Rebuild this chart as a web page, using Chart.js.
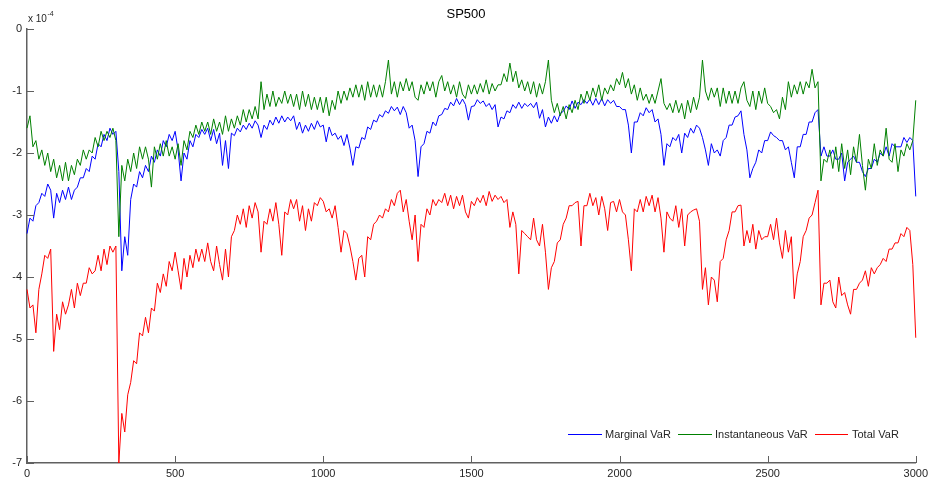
<!DOCTYPE html>
<html>
<head>
<meta charset="utf-8">
<script src="https://cdn.jsdelivr.net/npm/chart.js@4.4.1/dist/chart.umd.min.js"></script>
<style>
html,body{margin:0;padding:0;background:#fff;}
#wrap{width:932px;height:485px;}
</style>
</head>
<body>
<div id="wrap"><canvas id="c" width="932" height="485"></canvas></div>
<script>
// Chart data (values in units of 1e-4), sampled every 10 time steps from 0 to 3000
const chartTitle = "SP500";
const seriesNames = ["Marginal VaR", "Instantaneous VaR", "Total VaR"];
const sampleStep = 10;
const xTickLabels = [0, 500, 1000, 1500, 2000, 2500, 3000];
const yTickLabels = [0, -1, -2, -3, -4, -5, -6, -7];

const marginalVaR = [
-3.3,-3.05,-3.1,-2.85,-2.8,-2.65,-2.7,-2.5,-2.6,-3.05,
-2.65,-2.8,-2.6,-2.75,-2.55,-2.75,-2.6,-2.55,-2.4,-2.4,
-2.25,-2.3,-2.05,-2.1,-1.85,-1.9,-1.7,-1.8,-1.6,-1.7,
-1.65,-2.3,-3.9,-3.35,-3.65,-2.75,-2.5,-2.55,-2.3,-2.4,
-2.2,-2.3,-2.05,-2.15,-1.95,-2.05,-1.8,-1.9,-1.7,-1.8,
-1.65,-1.95,-2.45,-2.0,-2.1,-1.8,-1.9,-1.7,-1.75,-1.62,
-1.7,-1.6,-1.8,-1.62,-1.85,-1.68,-2.2,-1.8,-2.25,-1.68,
-1.72,-1.6,-1.66,-1.55,-1.62,-1.52,-1.6,-1.48,-1.55,-1.75,
-1.55,-1.62,-1.47,-1.55,-1.42,-1.52,-1.4,-1.5,-1.42,-1.48,
-1.4,-1.62,-1.5,-1.68,-1.55,-1.65,-1.52,-1.62,-1.48,-1.58,
-1.55,-1.82,-1.58,-1.72,-1.68,-1.78,-1.72,-1.88,-1.7,-1.92,
-2.2,-1.9,-1.92,-1.75,-1.78,-1.58,-1.62,-1.47,-1.5,-1.38,
-1.42,-1.32,-1.36,-1.25,-1.32,-1.26,-1.38,-1.25,-1.35,-1.6,
-1.55,-1.8,-2.38,-1.9,-1.85,-1.65,-1.68,-1.5,-1.56,-1.4,
-1.38,-1.28,-1.3,-1.18,-1.24,-1.12,-1.22,-1.13,-1.22,-1.47,
-1.25,-1.24,-1.14,-1.2,-1.16,-1.25,-1.2,-1.3,-1.22,-1.58,
-1.42,-1.45,-1.32,-1.35,-1.22,-1.28,-1.18,-1.28,-1.2,-1.25,
-1.2,-1.27,-1.18,-1.44,-1.3,-1.58,-1.42,-1.52,-1.4,-1.5,
-1.36,-1.33,-1.24,-1.3,-1.16,-1.28,-1.18,-1.22,-1.14,-1.2,
-1.13,-1.23,-1.12,-1.22,-1.12,-1.24,-1.14,-1.2,-1.15,-1.25,
-1.25,-1.3,-1.3,-1.55,-2.0,-1.5,-1.5,-1.35,-1.4,-1.27,
-1.35,-1.3,-1.5,-1.45,-1.7,-2.2,-1.85,-1.9,-1.75,-1.8,
-1.7,-2.0,-1.68,-1.75,-1.6,-1.68,-1.55,-1.6,-1.75,-1.95,
-2.2,-1.85,-2.0,-1.95,-2.05,-1.8,-1.75,-1.55,-1.55,-1.42,
-1.4,-1.32,-1.7,-1.95,-2.4,-2.25,-2.15,-1.95,-2.0,-1.8,
-1.8,-1.66,-1.72,-1.75,-1.8,-1.8,-1.95,-1.9,-2.15,-2.4,
-1.9,-1.9,-1.7,-1.7,-1.5,-1.5,-1.35,-1.3,-2.05,-1.9,
-2.05,-2.05,-1.95,-2.1,-2.1,-2.0,-2.45,-2.15,-2.1,-2.05,
-2.15,-2.15,-2.3,-2.38,-2.25,-2.25,-2.1,-2.15,-2.0,-2.05,
-1.9,-2.05,-1.85,-1.9,-1.9,-1.9,-1.75,-1.83,-1.75,-1.8,
-2.7];

const instantaneousVaR = [
-1.6,-1.4,-1.9,-1.8,-2.1,-1.95,-2.2,-2.0,-2.3,-2.1,
-2.4,-2.2,-2.45,-2.15,-2.45,-2.2,-2.35,-2.1,-2.2,-1.95,
-2.1,-1.95,-2.0,-1.75,-1.9,-1.65,-1.8,-1.65,-1.75,-1.6,
-1.8,-3.35,-2.2,-2.45,-2.1,-2.3,-2.0,-2.25,-1.9,-2.1,
-1.9,-2.1,-2.55,-1.9,-2.1,-1.85,-2.05,-1.8,-2.05,-1.9,
-2.1,-1.85,-2.2,-1.8,-1.95,-1.65,-1.75,-1.55,-1.7,-1.5,
-1.65,-1.5,-1.7,-1.45,-1.65,-1.5,-1.7,-1.4,-1.65,-1.45,
-1.6,-1.4,-1.55,-1.3,-1.5,-1.3,-1.45,-1.25,-1.45,-0.85,
-1.3,-1.05,-1.25,-1.0,-1.25,-1.1,-1.2,-1.0,-1.2,-1.05,
-1.25,-1.05,-1.3,-1.0,-1.25,-1.05,-1.3,-1.1,-1.3,-1.1,
-1.35,-1.1,-1.4,-1.15,-1.3,-1.0,-1.2,-1.0,-1.15,-0.95,
-1.1,-0.9,-1.1,-0.9,-1.15,-0.85,-1.1,-0.9,-1.1,-0.9,
-1.1,-0.85,-0.5,-1.05,-0.85,-1.1,-0.85,-1.0,-0.8,-1.0,
-0.85,-1.1,-1.15,-0.9,-1.05,-0.85,-1.0,-0.85,-1.1,-0.85,
-0.75,-1.0,-0.85,-1.05,-0.9,-1.1,-0.85,-1.05,-1.12,-0.9,
-1.05,-0.9,-1.05,-0.88,-1.02,-0.82,-1.05,-0.88,-1.0,-0.9,
-0.9,-0.72,-0.85,-0.55,-0.85,-0.68,-0.95,-0.82,-1.0,-0.85,
-1.05,-0.85,-1.1,-0.88,-1.05,-0.85,-0.5,-1.15,-1.35,-1.2,
-1.4,-1.25,-1.45,-1.22,-1.35,-1.15,-1.3,-1.05,-1.2,-1.0,
-1.15,-0.95,-1.1,-0.9,-1.15,-0.95,-1.05,-0.9,-1.0,-0.8,
-0.9,-0.7,-0.95,-0.8,-1.05,-0.9,-1.15,-0.95,-1.15,-1.05,
-1.2,-1.05,-1.2,-1.0,-0.8,-1.2,-1.3,-1.2,-1.35,-1.15,
-1.35,-1.2,-1.45,-1.15,-1.35,-1.1,-1.3,-1.1,-0.5,-1.0,
-1.15,-0.95,-1.1,-0.95,-1.25,-0.95,-1.2,-1.0,-1.2,-1.0,
-1.2,-0.95,-0.85,-1.15,-1.25,-1.0,-1.3,-1.0,-1.2,-0.95,
-1.2,-1.25,-1.35,-1.3,-1.45,-1.1,-1.3,-0.85,-1.1,-0.9,
-1.05,-0.85,-1.05,-0.85,-0.95,-0.65,-0.95,-0.85,-2.45,-2.1,
-2.15,-1.95,-2.25,-1.9,-2.3,-1.85,-2.25,-1.95,-2.35,-1.9,
-2.15,-1.7,-2.2,-2.6,-2.1,-2.25,-1.85,-2.2,-1.95,-2.05,
-1.6,-2.1,-2.15,-1.85,-2.3,-1.95,-2.05,-1.85,-1.95,-1.8,
-1.15];

const totalVaR = [
-4.2,-4.5,-4.45,-4.9,-4.2,-3.95,-3.65,-3.7,-3.55,-5.2,
-4.6,-4.85,-4.4,-4.6,-4.45,-4.2,-4.5,-4.1,-4.3,-4.1,
-4.1,-3.85,-3.95,-3.9,-3.65,-3.9,-3.55,-3.8,-3.5,-3.6,
-3.5,-7.0,-6.2,-6.5,-5.9,-5.7,-5.35,-5.4,-4.9,-4.95,
-4.65,-4.9,-4.5,-4.55,-4.1,-4.25,-3.95,-4.15,-3.75,-3.9,
-3.6,-3.9,-4.2,-3.7,-4.0,-3.65,-3.85,-3.55,-3.75,-3.55,
-3.75,-3.45,-3.75,-3.9,-3.5,-3.8,-4.05,-3.55,-4.0,-3.35,
-3.25,-3.0,-3.15,-2.9,-3.2,-2.85,-3.05,-2.8,-2.95,-3.6,
-3.1,-3.15,-2.9,-3.1,-2.8,-3.15,-3.65,-2.95,-3.0,-2.75,
-2.9,-2.75,-3.1,-2.85,-3.25,-2.9,-3.1,-2.8,-2.85,-2.72,
-2.78,-2.95,-2.9,-3.05,-2.85,-3.2,-3.6,-3.25,-3.3,-3.5,
-3.75,-4.05,-3.7,-3.65,-4.0,-3.35,-3.4,-3.15,-3.1,-3.0,
-3.05,-2.9,-2.95,-2.75,-2.85,-2.65,-2.6,-2.95,-2.75,-3.1,
-3.4,-3.0,-3.75,-3.15,-3.2,-2.9,-3.0,-2.75,-2.85,-2.75,
-2.8,-2.65,-2.85,-2.68,-2.9,-2.7,-2.85,-2.68,-2.95,-3.05,
-2.78,-2.85,-2.72,-2.8,-2.68,-2.85,-2.62,-2.78,-2.68,-2.75,
-2.7,-2.8,-2.75,-3.2,-2.95,-3.15,-3.95,-3.25,-3.3,-3.35,
-3.4,-3.05,-3.4,-3.5,-3.15,-3.6,-4.2,-3.85,-3.75,-3.45,
-3.4,-3.15,-3.05,-2.85,-2.85,-2.8,-2.78,-3.5,-2.85,-2.85,
-2.65,-2.85,-2.72,-3.0,-2.7,-2.9,-3.25,-2.8,-2.78,-2.95,
-2.75,-2.95,-3.0,-3.4,-3.9,-2.9,-2.95,-2.75,-2.95,-2.7,
-2.85,-2.68,-2.95,-2.72,-3.05,-3.6,-2.95,-3.05,-3.1,-2.85,
-3.2,-2.9,-3.5,-3.0,-2.95,-2.92,-2.9,-3.1,-4.2,-3.85,
-4.45,-4.0,-4.05,-4.4,-3.75,-3.7,-3.4,-3.25,-2.95,-2.95,
-2.85,-2.84,-3.5,-3.25,-3.45,-3.15,-3.55,-3.25,-3.4,-3.35,
-3.35,-3.15,-3.4,-3.05,-3.45,-3.7,-3.25,-3.6,-3.35,-4.35,
-3.95,-3.75,-3.35,-3.25,-3.05,-3.0,-2.8,-2.6,-4.45,-4.1,
-4.1,-4.05,-4.4,-4.5,-4.0,-4.3,-4.25,-4.45,-4.6,-4.2,
-4.2,-4.1,-4.05,-3.9,-4.15,-3.85,-3.95,-3.85,-3.8,-3.7,
-3.75,-3.55,-3.55,-3.45,-3.45,-3.3,-3.35,-3.2,-3.25,-3.8,
-4.98];

const seriesColors = ["#0000ff", "#008000", "#ff0000"];

const FONT = "'Liberation Sans', Arial, sans-serif";
const AXIS_COLOR = "#606060";
const TEXT_COLOR = "#262626";

function toPoints(arr) {
  return arr.map((v, i) => ({ x: i * sampleStep, y: v }));
}

const decorPlugin = {
  id: 'decor',
  afterDraw(chart) {
    const ctx = chart.ctx;
    const area = chart.chartArea;
    const xs = chart.scales.x, ys = chart.scales.y;
    ctx.save();
    // inward tick marks
    ctx.strokeStyle = AXIS_COLOR;
    ctx.lineWidth = 1;
    const tl = 7;
    xTickLabels.forEach(t => {
      const px = Math.round(xs.getPixelForValue(t)) + 0.5;
      ctx.beginPath();
      ctx.moveTo(px, area.bottom);
      ctx.lineTo(px, area.bottom - tl);
      ctx.stroke();
    });
    yTickLabels.forEach(t => {
      const py = Math.round(ys.getPixelForValue(t)) + 0.5;
      ctx.beginPath();
      ctx.moveTo(area.left, py);
      ctx.lineTo(area.left + tl, py);
      ctx.stroke();
    });
    // title
    ctx.fillStyle = '#000';
    ctx.font = "13px " + FONT;
    ctx.textAlign = 'center';
    ctx.textBaseline = 'middle';
    ctx.fillText(chartTitle, 466, 14);
    // exponent label
    ctx.fillStyle = TEXT_COLOR;
    ctx.textAlign = 'left';
    ctx.textBaseline = 'alphabetic';
    ctx.font = "10px " + FONT;
    ctx.fillText("x 10", 28, 22);
    const w = ctx.measureText("x 10").width;
    ctx.font = "7px " + FONT;
    ctx.fillText("-4", 28 + w + 0.5, 16);
    // legend
    const legendItems = [
      { x0: 568, x1: 602, tx: 605 },
      { x0: 678, x1: 712, tx: 715 },
      { x0: 815, x1: 848, tx: 852 }
    ];
    const ly = 434;
    ctx.font = "11px " + FONT;
    ctx.textBaseline = 'middle';
    legendItems.forEach((it, i) => {
      ctx.strokeStyle = seriesColors[i];
      ctx.lineWidth = 1;
      ctx.beginPath();
      ctx.moveTo(it.x0, ly + 0.5);
      ctx.lineTo(it.x1, ly + 0.5);
      ctx.stroke();
      ctx.fillStyle = TEXT_COLOR;
      ctx.fillText(seriesNames[i], it.tx, ly + 0.5);
    });
    ctx.restore();
  }
};

const data = {
  datasets: [
    { label: seriesNames[0], data: toPoints(marginalVaR), borderColor: seriesColors[0], order: 3 },
    { label: seriesNames[1], data: toPoints(instantaneousVaR), borderColor: seriesColors[1], order: 2 },
    { label: seriesNames[2], data: toPoints(totalVaR), borderColor: seriesColors[2], order: 1 }
  ].map(d => Object.assign(d, { borderWidth: 1, pointRadius: 0, tension: 0, fill: false, clip: 2 }))
};

new Chart(document.getElementById('c'), {
  type: 'line',
  data,
  options: {
    responsive: false,
    animation: false,
    devicePixelRatio: 1,
    layout: { padding: { left: 0, right: 16, top: 29, bottom: 0 } },
    plugins: { legend: { display: false }, title: { display: false }, tooltip: { enabled: false } },
    scales: {
      x: {
        type: 'linear', min: 0, max: 3000,
        afterBuildTicks: s => { s.ticks = xTickLabels.map(v => ({ value: v })); },
        afterFit: s => { s.height = 22; },
        grid: { display: true, drawOnChartArea: false, drawTicks: false },
        border: { display: true, color: AXIS_COLOR, width: 1.5 },
        ticks: { color: TEXT_COLOR, font: { family: FONT, size: 11 }, padding: 4, maxRotation: 0, autoSkip: false,
                 callback: v => String(v) }
      },
      y: {
        type: 'linear', min: -7, max: 0,
        afterBuildTicks: s => { s.ticks = yTickLabels.map(v => ({ value: v })); },
        afterFit: s => { s.width = 27; },
        grid: { display: true, drawOnChartArea: false, drawTicks: false },
        border: { display: true, color: AXIS_COLOR, width: 1.5 },
        ticks: { color: TEXT_COLOR, font: { family: FONT, size: 11 }, padding: 5,
                 callback: v => String(v) }
      }
    }
  },
  plugins: [decorPlugin]
});
</script>
</body>
</html>
